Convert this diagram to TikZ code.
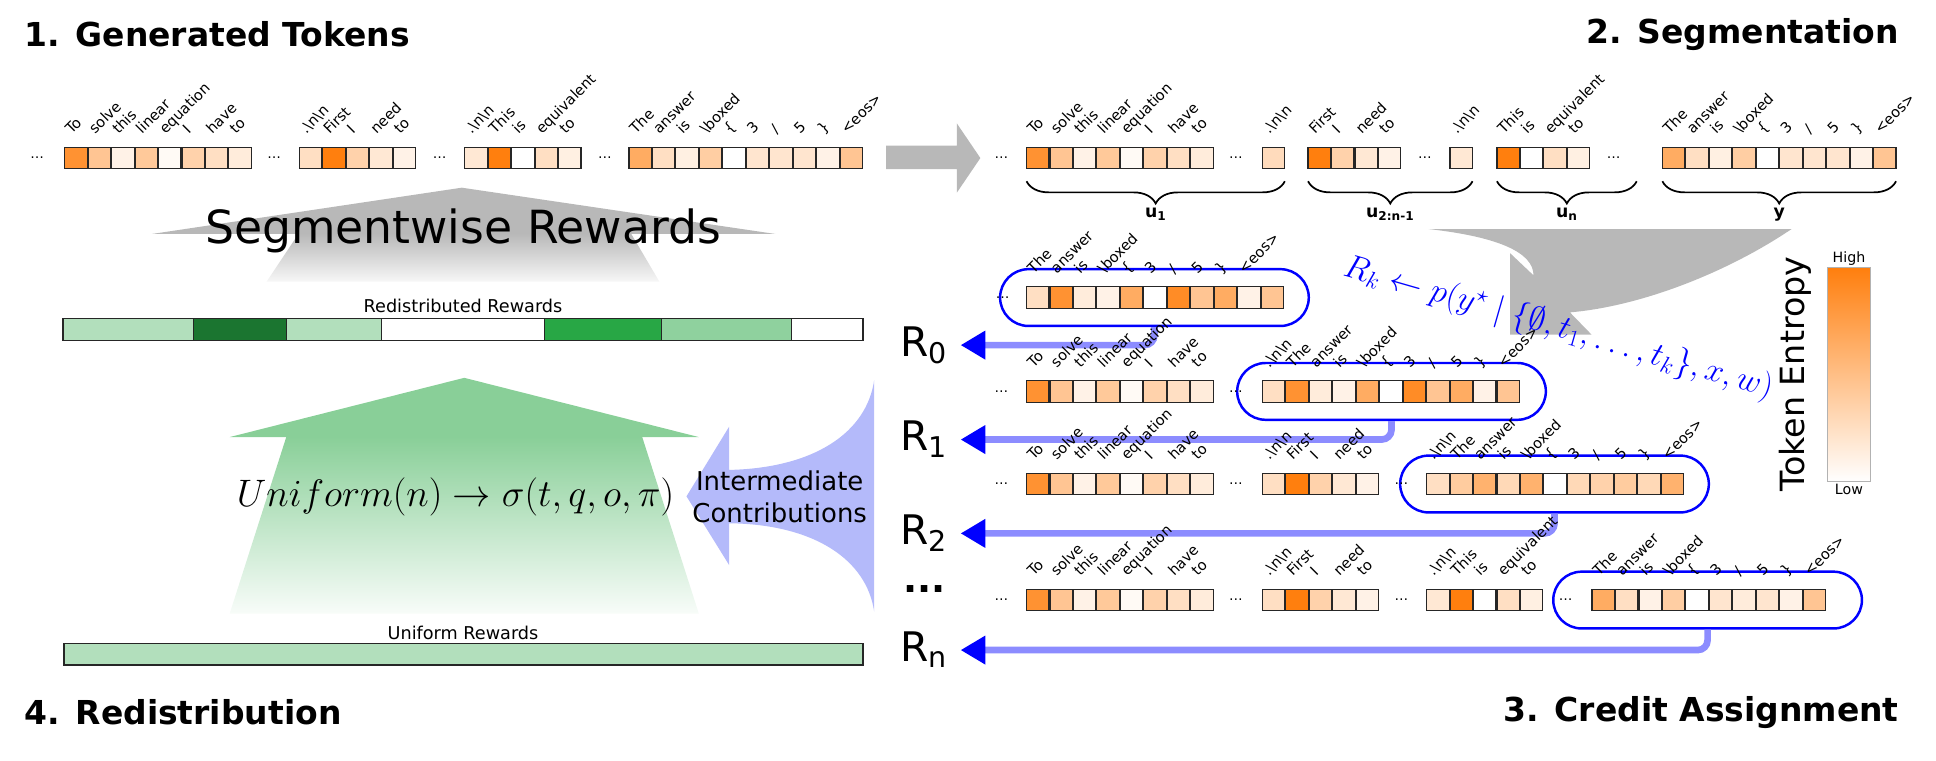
\RequirePackage{fix-cm}
\documentclass[tikz,border=0pt]{standalone}
\usepackage[no-math]{fontspec}
\setmainfont{DejaVu Sans}
\usetikzlibrary{arrows.meta, decorations.pathreplacing, positioning}

\definecolor{entropy}{HTML}{FF7F0E}
\definecolor{arrowgray}{HTML}{B8B8B8}
\definecolor{greenarrow}{HTML}{89CF98}
\definecolor{contribblue}{HTML}{B4BAFA}
\definecolor{rwlight}{HTML}{B2DFBC}
\definecolor{rwdark}{HTML}{1B7530}
\definecolor{rwmid}{HTML}{28A745}
\definecolor{rwsoft}{HTML}{8FD19E}

\newcommand{\fsz}[1]{\fontsize{#1}{#1}\selectfont}
% token texts
\newcommand{\tknl}{.\textbackslash n\textbackslash n}
\newcommand{\tkbox}{\textbackslash boxed}
\newcommand{\tkeos}{<eos>}
\newcommand{\tkslash}{/}
\newcommand{\tklb}{\{}
\newcommand{\tkrb}{\}}
% entropy / token lists
\newcommand{\lstIntro}{85/To,45/solve,10/this,42/linear,4/equation,35/I,25/have,15/to}
\newcommand{\lstFirst}{25/\tknl,100/First,35/I,18/need,10/to}
\newcommand{\lstThis}{18/\tknl,100/This,0/is,25/equivalent,12/to}
\newcommand{\lstAns}{65/The,25/answer,12/is,38/\tkbox,0/\tklb,20/3,20/\tkslash,20/5,10/\tkrb,45/\tkeos}
\newcommand{\lstNlA}{28/\tknl}
\newcommand{\lstNlB}{18/\tknl}
\newcommand{\lstFirstB}{100/First,35/I,18/need,10/to}
\newcommand{\lstThisB}{100/This,0/is,25/equivalent,12/to}
\newcommand{\lstRzero}{25/The,85/answer,15/is,10/\tkbox,65/\tklb,0/3,90/\tkslash,45/5,65/\tkrb,10/\tkeos,45/{}}
\newcommand{\lstRone}{25/\tknl,85/The,15/answer,10/is,65/\tkbox,0/\tklb,90/3,45/\tkslash,65/5,10/\tkrb,45/\tkeos}
\newcommand{\lstRtwo}{25/\tknl,40/The,60/answer,30/is,60/\tkbox,0/\tklb,30/3,35/\tkslash,40/5,30/\tkrb,60/\tkeos}
\newcommand{\lstRn}{65/The,25/answer,10/is,38/\tkbox,0/\tklb,20/3,15/\tkslash,20/5,10/\tkrb,45/\tkeos}

% one run of token cells with their rotated texts
\newcommand{\tokseg}[4]{%
  \foreach \v/\t [count=\i] in #4 {
    \node[tokcell, fill=entropy!\v!white] (#1-\i) at ({#2+(\i-0.5)*19}, #3) {};
    \node[toklabel] (#1-\i-l) at ([xshift=5.5pt, yshift=10pt]#1-\i.north west) {\t};
  }%
}
\newcommand{\gapdots}[3]{\node[tokdots] (#1) at (#2,#3) {\dots};}

\begin{document}
\begin{tikzpicture}[x=1pt, y=-1pt,
  tokcell/.style={draw=black!85, line width=0.9pt, minimum width=18.2pt, minimum height=17.6pt, inner sep=0pt, outer sep=0pt},
  toklabel/.style={rotate=45, anchor=base west, inner sep=0pt, font=\fsz{11.8}},
  tokdots/.style={inner sep=0pt, font=\fsz{11}},
  paneltitle/.style={inner sep=0pt, font=\fsz{26.7}\bfseries},
  segbrace/.style={decorate, decoration={brace, amplitude=18pt, mirror}, line width=1.4pt},
  seglabel/.style={inner sep=0pt, font=\fsz{14}\bfseries},
  segbox/.style={draw=blue, line width=2pt, rounded corners=23pt, minimum width=250pt, minimum height=46pt},
  rarrow/.style={draw=blue!45, line width=5.4pt, rounded corners=8pt, -{Triangle[length=20pt, width=22pt, color=blue]}},
  rlabel/.style={anchor=base west, inner sep=0pt, font=\fsz{33}},
  cbtext/.style={inner sep=0pt, font=\fsz{11.5}}]
\useasboundingbox (0,0) rectangle (1568,616);

% panel titles
\node[paneltitle, anchor=west] (t1) at (20,28) {1. Generated Tokens};
\node[paneltitle, anchor=east] (t2) at (1538,28) {2. Segmentation};
\node[paneltitle, anchor=east] (t3) at (1538,577) {3. Credit Assignment};
\node[paneltitle, anchor=west] (t4) at (20,577) {4. Redistribution};

% big arrows
\fill[arrowgray] (717.6,118) -- (775,118) -- (775,100) -- (794,128) -- (775,156) -- (775,137) -- (717.6,137) -- cycle;
\fill[arrowgray] (1157,185.5) -- (1451,185.5) .. controls (1400,220) and (1330,248) .. (1271.5,253)
  -- (1289,271) -- (1223,271) -- (1223,205) -- (1242,223) .. controls (1242,205) and (1215,192) .. (1157,185.5) -- cycle;
\fill[arrowgray] (374,152) -- (628,189.5) -- (123,189.5) -- cycle;
\shade[top color=arrowgray, bottom color=arrowgray!12!white] (242,189) -- (511,189) -- (534,228) -- (216,228) -- cycle;
\fill[greenarrow] (376,306) -- (566,354) -- (186,354) -- cycle;
\shade[top color=greenarrow, bottom color=greenarrow!6!white] (232,353.5) -- (520,353.5) -- (566,497) -- (186,497) -- cycle;
\fill[contribblue] (556,402) -- (590.5,345.6) -- (590.5,380.6) .. controls (660,379) and (702,350) .. (708,307.8)
  -- (708,495.4) .. controls (702,453.6) and (660,424.6) .. (590.5,423.8) -- (590.5,457.6) -- cycle;

% 4. redistribution
\node[font=\fsz{37}, inner sep=0pt] (segrew) at (375,187) {Segmentwise Rewards};
\node[font=\fsz{14.3}, inner sep=0pt] (redist) at (375,248) {Redistributed Rewards};
\foreach \xa/\xb/\c in {51/157/rwlight, 157/232/rwdark, 232/309/rwlight, 309/441/white, 441/536/rwmid, 536/641/rwsoft, 641/699/white}
  \filldraw[fill=\c, draw=black!85, line width=1pt] (\xa,258) rectangle (\xb,276);
\node[font=\fsz{31}, inner sep=0pt] (unif) at (369,402.5) {$Uniform(n) \rightarrow \sigma(t, q, o, \pi)$};
\node[font=\fontsize{21}{26.5}\selectfont, align=center, inner sep=0pt] (contrib) at (631.5,402.5) {Intermediate\\Contributions};
\node[font=\fsz{14.3}, inner sep=0pt] (unifrew) at (375,513) {Uniform Rewards};
\filldraw[fill=rwlight, draw=black!85, line width=1.2pt] (52,521) rectangle (699,538.5);

% 1. generated tokens
\gapdots{p1d0}{30}{128}
\tokseg{p1a}{52}{128}{\lstIntro}
\gapdots{p1d1}{222}{128}
\tokseg{p1b}{242}{128}{\lstFirst}
\gapdots{p1d2}{356}{128}
\tokseg{p1c}{376}{128}{\lstThis}
\gapdots{p1d3}{490}{128}
\tokseg{p1d}{509}{128}{\lstAns}

% 2. segmentation
\gapdots{p2d0}{811}{128}
\tokseg{p2a}{831}{128}{\lstIntro}
\gapdots{p2d1}{1001}{128}
\tokseg{p2an}{1022}{128}{\lstNlA}
\tokseg{p2b}{1059}{128}{\lstFirstB}
\gapdots{p2d2}{1154}{128}
\tokseg{p2bn}{1174}{128}{\lstNlB}
\tokseg{p2c}{1212}{128}{\lstThisB}
\gapdots{p2d3}{1307}{128}
\tokseg{p2d}{1346}{128}{\lstAns}
\draw[segbrace] ([yshift=-10pt]p2a-1.south west) -- node[seglabel, below=21pt] (u1) {u\textsubscript{1}} ([yshift=-10pt]p2an-1.south east);
\draw[segbrace] ([yshift=-10pt]p2b-1.south west) -- node[seglabel, below=21pt] (u2) {u\textsubscript{2:n-1}} ([yshift=-10pt]p2bn-1.south east);
\draw[segbrace] ([yshift=-10pt]p2c-1.south west) -- node[seglabel, below=21pt] (un) {u\textsubscript{n}} ([xshift=38pt, yshift=-10pt]p2c-4.south east);
\draw[segbrace] ([yshift=-10pt]p2d-1.south west) -- node[seglabel, below=21pt] (uy) {y} ([yshift=-10pt]p2d-10.south east);

% 3. credit assignment
\node[segbox] (r0box) at (935,241) {};
\node[segbox] (r1box) at (1127,317) {};
\node[segbox] (r2box) at (1259,392) {};
\node[segbox] (rnbox) at (1383,486) {};
\node[rlabel] (r0) at (729,288.5) {R\textsubscript{0}};
\node[rlabel] (r1) at (729,365) {R\textsubscript{1}};
\node[rlabel] (r2) at (729,441) {R\textsubscript{2}};
\node[rlabel] (rn) at (729,535.5) {R\textsubscript{n}};
\node[anchor=base, inner sep=0pt, font=\fsz{30}\bfseries] (rdots) at (749,479.5) {...};
\coordinate (r0tip) at (778,279.5);
\coordinate (r1tip) at (778,356);
\coordinate (r2tip) at (778,432);
\coordinate (rntip) at (778,526.5);
\draw[rarrow] (r0box.south) |- (r0tip);
\draw[rarrow] (r1box.south) |- (r1tip);
\draw[rarrow] (r2box.south) |- (r2tip);
\draw[rarrow] (rnbox.south) |- (rntip);

\gapdots{r0d0}{812}{241}
\tokseg{r0s}{831}{241}{\lstRzero}
\gapdots{r1d0}{811}{317}
\tokseg{r1a}{831}{317}{\lstIntro}
\gapdots{r1d1}{1001}{317}
\tokseg{r1s}{1022}{317}{\lstRone}
\gapdots{r2d0}{811}{392}
\tokseg{r2a}{831}{392}{\lstIntro}
\gapdots{r2d1}{1001}{392}
\tokseg{r2b}{1022}{392}{\lstFirst}
\gapdots{r2d2}{1135}{392}
\tokseg{r2s}{1155}{392}{\lstRtwo}
\gapdots{rnd0}{811}{486}
\tokseg{rna}{831}{486}{\lstIntro}
\gapdots{rnd1}{1001}{486}
\tokseg{rnb}{1022}{486}{\lstFirst}
\gapdots{rnd2}{1135}{486}
\tokseg{rnc}{1155}{486}{\lstThis}
\gapdots{rnd3}{1268}{486}
\tokseg{rns}{1289}{486}{\lstRn}

\node[rotate=-16, text=blue, inner sep=0pt, font=\fsz{27}] (credit) at (1262,266)
  {$R_k \leftarrow p(y^\star \mid \{\emptyset, t_1, \ldots, t_k\}, x, w)$};

% entropy scale
\shadedraw[top color=entropy, bottom color=white, draw=gray!60, line width=0.8pt] (1480,217) rectangle (1515,390);
\node[cbtext, anchor=south] (cbhigh) at (1497.5,215) {High};
\node[cbtext, anchor=north] (cblow) at (1497.5,392) {Low};
\node[rotate=90, inner sep=0pt, font=\fsz{27}] (cbname) at (1454,303) {Token Entropy};
\end{tikzpicture}
\end{document}
